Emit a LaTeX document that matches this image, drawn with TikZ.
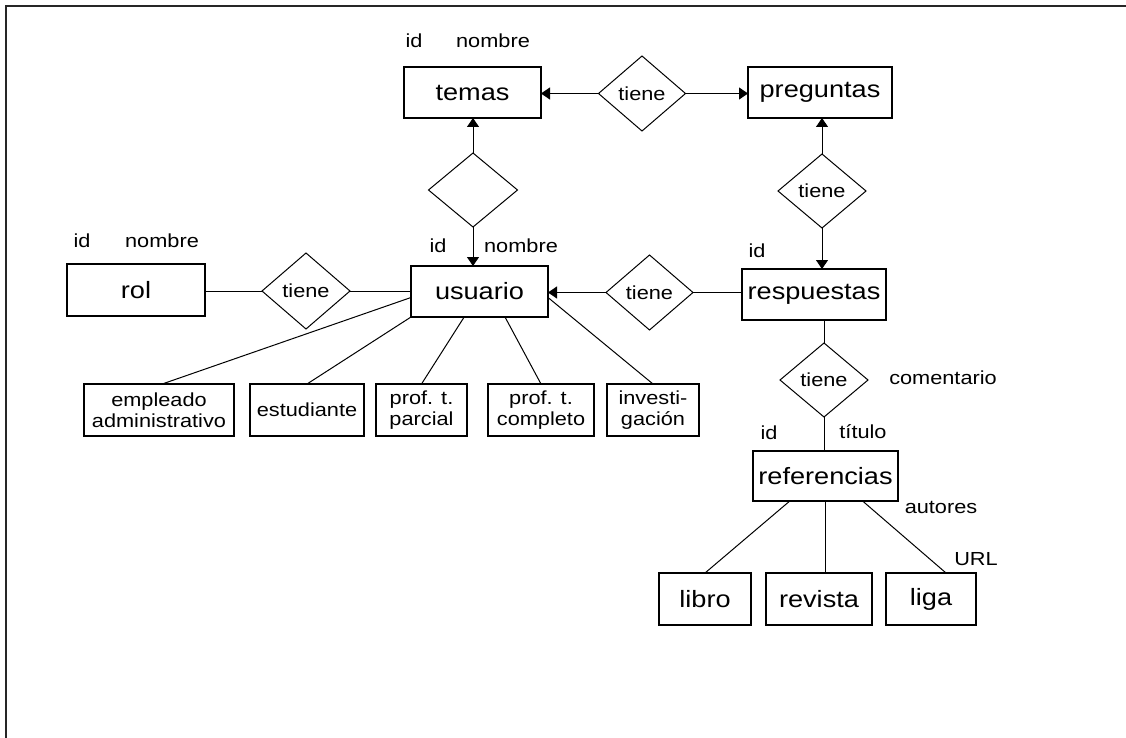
\documentclass[tikz,border=0pt]{standalone}
\usepackage{fontspec}
\setmainfont{Liberation Sans}[FakeStretch=1.15]
\usetikzlibrary{shapes.geometric,arrows.meta}
\tikzset{
  ent/.style={draw, rectangle, line width=1.1pt, inner sep=0pt, outer sep=0pt, minimum height=51pt, font=\fontsize{23.6}{28}\selectfont},
  subbox/.style={draw, rectangle, line width=1.1pt, inner sep=0pt, outer sep=0pt, minimum height=52pt, align=center, font=\fontsize{18.9}{21}\selectfont},
  rel/.style={draw, diamond, line width=1pt, inner sep=0pt, outer sep=0pt, minimum width=88pt, minimum height=75pt, font=\fontsize{18.9}{21}\selectfont},
  attr/.style={inner sep=0pt, font=\fontsize{18.9}{21}\selectfont},
  conn/.style={line width=1pt},
  arr/.style={line width=1pt, -{Triangle[length=9pt,width=12pt]}}
}
\begin{document}
\begin{tikzpicture}[x=1pt,y=-1pt]
\useasboundingbox (0,0) rectangle (1126,738);
\draw[line width=2pt, draw=black!85] (6,738) -- (6,6) -- (1126,6);

% entities
\node[ent, minimum width=137pt] (temas) at (472.5,92.5) {temas};
\node[ent, minimum width=144pt] (preguntas) at (820,92.5) {preguntas};
\node[ent, minimum width=137pt] (usuario) at (479.5,291.5) {usuario};
\node[ent, minimum width=138pt, minimum height=52pt] (rol) at (136,290) {rol};
\node[ent, minimum width=144pt] (respuestas) at (814,294.5) {respuestas};
\node[ent, minimum width=145pt, minimum height=50pt] (referencias) at (825.5,476) {referencias};

% relationships
\node[rel, minimum width=87pt] (d1) at (642,93.5) {tiene};
\node[rel, minimum width=89pt, minimum height=74pt] (d2) at (473,190) {};
\node[rel, minimum height=76pt] (d3) at (306,291) {tiene};
\node[rel, minimum width=87pt] (d4) at (649.5,292.5) {tiene};
\node[rel, minimum height=74pt] (d5) at (822,191) {tiene};
\node[rel, minimum height=74pt] (d6) at (824,380) {tiene};

% subtypes of usuario
\node[subbox, minimum width=150pt] (empleado) at (159,410) {empleado\\administrativo};
\node[subbox, minimum width=114pt] (estudiante) at (307,410) {estudiante};
\node[subbox, minimum width=91pt] (parcial) at (421.5,410) {prof. t.\\parcial};
\node[subbox, minimum width=106pt] (completo) at (541,410) {prof. t.\\completo};
\node[subbox, minimum width=92pt] (invest) at (653,410) {investi-\\gación};

% subtypes of referencias
\node[subbox, minimum width=92pt, font=\fontsize{23.6}{28}\selectfont] (libro) at (705,599) {libro};
\node[subbox, minimum width=106pt, font=\fontsize{23.6}{28}\selectfont] (revista) at (819,599) {revista};
\node[subbox, minimum width=90pt, font=\fontsize{23.6}{28}\selectfont] (liga) at (931,599) {liga};

% attributes
\node[attr] (tid) at (414,41) {id};
\node[attr] (tnom) at (493,41) {nombre};
\node[attr] (rid) at (82,241) {id};
\node[attr] (rnom) at (162,241) {nombre};
\node[attr] (uid) at (438,246) {id};
\node[attr] (unom) at (521,246) {nombre};
\node[attr] (resid) at (757,251) {id};
\node[attr] (coment) at (943,378) {comentario};
\node[attr] (refid) at (769,433) {id};
\node[attr] (titulo) at (863,432) {título};
\node[attr] (autores) at (941,507) {autores};
\node[attr] (url) at (976,559) {URL};

% connectors
\draw[arr] (d1.west) -- (d1.west -| temas.east);
\draw[arr] (d1.east) -- (d1.east -| preguntas.west);
\draw[arr] (d2.north) -- (d2.north |- temas.south);
\draw[arr] (d2.south) -- (d2.south |- usuario.north);
\draw[conn] (rol.east |- d3.west) -- (d3.west);
\draw[conn] (d3.east) -- (d3.east -| usuario.west);
\draw[arr] (d4.west) -- (d4.west -| usuario.east);
\draw[conn] (d4.east) -- (d4.east -| respuestas.west);
\draw[arr] (d5.north) -- (d5.north |- preguntas.south);
\draw[arr] (d5.south) -- (d5.south |- respuestas.north);
\draw[conn] (d6.north) -- (d6.north |- respuestas.south);
\draw[conn] (d6.south) -- (d6.south |- referencias.north);

\draw[conn] (empleado.83) -- (usuario.185);
\draw[conn] (estudiante.north) -- (usuario.south west);
\draw[conn] (parcial.north) -- (usuario.-121);
\draw[conn] (completo.north) -- (usuario.-45);
\draw[conn] (invest.north) -- (usuario.-5);

\draw[conn] (referencias.-145) -- (libro.north);
\draw[conn] (referencias.south) -- (referencias.south |- revista.north);
\draw[conn] (referencias.-34) -- (liga.60);
\end{tikzpicture}
\end{document}
